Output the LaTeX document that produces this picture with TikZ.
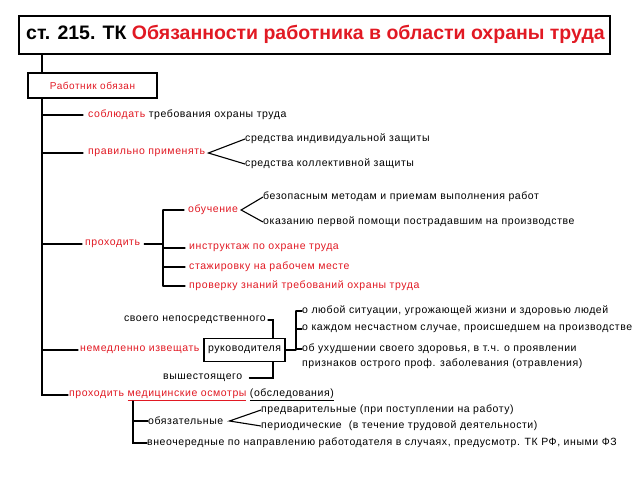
\documentclass[tikz,border=0pt]{standalone}
\usepackage{fontspec}
\setmainfont{Liberation Sans}
\newfontfamily\spaced{Liberation Sans}[LetterSpace=5.5]
\usetikzlibrary{calc}
\definecolor{myred}{RGB}{225,25,35}
\tikzset{
  txt/.style={anchor=west, inner sep=0pt, font=\spaced\fontsize{10.5}{12}\selectfont},
  rtxt/.style={txt, text=myred},
  ln/.style={line width=1.3pt, line cap=round},
  fk/.style={line width=1.1pt}
}
\begin{document}
\begin{tikzpicture}[x=1pt,y=-1pt]
\useasboundingbox (0,0) rectangle (640,480);
% title
\node[draw, line width=1.6pt, minimum width=591pt, minimum height=38pt, anchor=north west, inner sep=0pt] (title) at (18,15) {};
\node[anchor=west, inner sep=0pt, font=\bfseries\fontsize{19.5}{22}\selectfont] (ttext) at (26,34) {ст. 215. ТК \textcolor{myred}{Обязанности работника в области охраны труда}};
\node[draw, line width=1.2pt, minimum width=129pt, minimum height=25pt, inner sep=0pt, text=myred, font=\spaced\fontsize{10}{11}\selectfont] (obz) at (92.5,85.5) {Работник обязан};
\coordinate (tr) at (42,0);
\coordinate (v3) at (163,0);
\coordinate (rv) at (273,0);
\coordinate (bv) at (296,0);
\coordinate (cv) at (133,0);
% level 1
\node[txt] (s1) at (88,115) {\textcolor{myred}{соблюдать} требования охраны труда};
\node[rtxt] (s2) at (88,153) {правильно применять};
\node[txt] (si) at (245,139) {средства индивидуальной защиты};
\node[txt] (sk) at (245,164) {средства коллективной защиты};
\node[rtxt] (s3) at (85,244) {проходить};
\node[rtxt] (ob) at (188,210) {обучение};
\node[txt] (bez) at (263,197) {безопасным методам и приемам выполнения работ};
\node[txt] (oka) at (263,222) {оказанию первой помощи пострадавшим на производстве};
\node[rtxt] (ins) at (189,248) {инструктаж по охране труда};
\node[rtxt] (st) at (189,267) {стажировку на рабочем месте};
\node[rtxt] (pr) at (189,286) {проверку знаний требований охраны труда};
\node[rtxt] (s4) at (80,350) {немедленно извещать};
\node[draw, line width=1.2pt, minimum width=81pt, minimum height=23pt, inner sep=0pt, font=\spaced\fontsize{10.5}{12}\selectfont] (rk) at (244.5,350) {руководителя};
\node[txt, anchor=east] (nep) at (266,320) {своего непосредственного};
\node[txt] (vys) at (163,378) {вышестоящего};
\node[txt] (l1) at (302,311) {о любой ситуации, угрожающей жизни и здоровью людей};
\node[txt] (l2) at (302,329) {о каждом несчастном случае, происшедшем на производстве};
\node[txt] (l3) at (302,349) {об ухудшении своего здоровья, в т.ч. о проявлении};
\node[txt] (l3b) at (302,364) {признаков острого проф. заболевания (отравления)};
\node[txt] (med) at (69,395) {\textcolor{myred}{проходить \underline{медицинские осмотры}} \underline{(обследования)}};
\node[txt] (ob2) at (148,421) {обязательные};
\node[txt] (pv) at (261,410) {предварительные (при поступлении на работу)};
\node[txt] (pd) at (261,426) {периодические~ (в течение трудовой деятельности)};
\node[txt] (vn) at (147,443) {внеочередные по направлению работодателя в случаях, предусмотр. ТК РФ, иными ФЗ};
% connectors
\draw[ln] (title.south -| tr) -- (obz.north -| tr);
\draw[ln] (obz.south -| tr) |- ([xshift=-1]med.west);
\draw[ln] (tr |- s1.west) -- ([xshift=-5]s1.west);
\draw[ln] (tr |- s2.west) -- ([xshift=-5]s2.west);
\draw[fk] (si.west) -- ([xshift=3]s2.east) -- (sk.west);
\draw[ln] (tr |- s3.west) -- ([xshift=-3]s3.west);
\draw[ln] ([xshift=4]s3.east) -- (v3 |- s3.east);
\draw[ln] (v3 |- ob.west) -- (v3 |- pr.west);
\draw[ln] (v3 |- ob.west) -- ([xshift=-4]ob.west);
\draw[ln] (v3 |- ins.west) -- ([xshift=-4]ins.west);
\draw[ln] (v3 |- st.west) -- ([xshift=-4]st.west);
\draw[ln] (v3 |- pr.west) -- ([xshift=-4]pr.west);
\draw[fk] (bez.west) -- ([xshift=3]ob.east) -- (oka.west);
\draw[ln] (tr |- s4.west) -- ([xshift=-2]s4.west);
\draw[ln] ([xshift=2]nep.east) -| (rk.north -| rv);
\draw[ln] ([xshift=7]vys.east) -| (rk.south -| rv);
\draw[ln] (rk.east) -- (bv |- rk.east);
\draw[ln] (bv |- l1.west) -- (bv |- l3.west);
\draw[ln] (bv |- l1.west) -- (l1.west);
\draw[ln] (bv |- l2.west) -- (l2.west);
\draw[ln] (bv |- l3.west) -- (l3.west);
\draw[ln] (cv |- med.south) -- (cv |- vn.west) -- (vn.west);
\draw[ln] (cv |- ob2.west) -- (ob2.west);
\draw[fk] (pv.west) -- ([xshift=6]ob2.east) -- (pd.west);
\end{tikzpicture}
\end{document}
